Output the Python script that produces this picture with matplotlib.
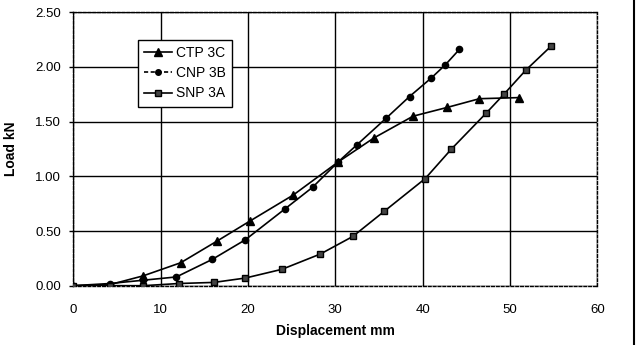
import matplotlib
matplotlib.use("Agg")
import matplotlib.pyplot as plt
from matplotlib.lines import Line2D

plt.rcParams['font.family'] = ['Liberation Sans', 'DejaVu Sans']

ctp_x = [0, 4.2, 8.0, 12.3, 16.5, 20.2, 25.2, 30.3, 34.4, 38.9, 42.8, 46.5, 51.0]
ctp_y = [0.0, 0.01, 0.09, 0.21, 0.41, 0.59, 0.83, 1.13, 1.35, 1.55, 1.63, 1.71, 1.72]

cnp_x = [0, 4.2, 8.0, 11.8, 15.9, 19.7, 24.2, 27.4, 30.3, 32.5, 35.8, 38.5, 41.0, 42.6, 44.2]
cnp_y = [0.0, 0.02, 0.05, 0.08, 0.24, 0.42, 0.70, 0.90, 1.13, 1.29, 1.53, 1.73, 1.90, 2.02, 2.16]

snp_x = [0, 4.2, 8.0, 12.1, 16.1, 19.7, 23.9, 28.3, 32.0, 35.6, 40.3, 43.3, 47.3, 49.3, 51.8, 54.7]
snp_y = [0.0, 0.0, 0.0, 0.02, 0.03, 0.07, 0.15, 0.29, 0.45, 0.68, 0.98, 1.25, 1.58, 1.75, 1.97, 2.19]

x_ticks = [0, 10, 20, 30, 40, 50, 60]
y_ticks = [0.0, 0.5, 1.0, 1.5, 2.0, 2.5]

fig = plt.figure(figsize=(6.38, 3.45), dpi=100)
ax = fig.add_axes([0.1149, 0.1719, 0.8213, 0.7924])

ax.plot(ctp_x, ctp_y, color='black', lw=1.2, marker='^', ms=5.5, zorder=3)
ax.plot(cnp_x, cnp_y, color='black', lw=1.2, marker='o', ms=4.5, zorder=3)
ax.plot(snp_x, snp_y, color='black', lw=1.2, marker='s', ms=4.5, mfc='#444444', zorder=3)

ax.set_xlim(0, 60)
ax.set_ylim(0, 2.5)
ax.set_xticks(x_ticks)
ax.set_yticks(y_ticks)
ax.set_yticklabels([f"{v:.2f}" for v in y_ticks])
ax.tick_params(length=3, width=1, direction='out', labelsize=9.5)
ax.tick_params(axis='y', pad=6)
ax.tick_params(axis='x', length=0, pad=13)

ax.grid(True, color='black', lw=1.0, ls='-')
ax.set_axisbelow(True)
for s in ax.spines.values():
    s.set_linestyle((0, (2, 1.5)))
    s.set_linewidth(1.0)

ax.set_xlabel('Displacement mm', fontsize=10, fontweight='bold', labelpad=6)
ax.set_ylabel('Load kN', fontsize=10, fontweight='bold', labelpad=12)

handles = [
    Line2D([], [], color='black', lw=1.2, marker='^', ms=5.5),
    Line2D([], [], color='black', lw=1.2, ls=(0, (2.5, 1.5)), marker='o', ms=4.0),
    Line2D([], [], color='black', lw=1.2, marker='s', ms=4.5, mfc='#444444'),
]
labels = ['CTP 3C', 'CNP 3B', 'SNP 3A']
leg = ax.legend(handles, labels, loc='upper left', bbox_to_anchor=(0.123, 0.9), fontsize=10,
                frameon=True, fancybox=False, framealpha=1, edgecolor='black', handlelength=2.0,
                borderpad=0.45, labelspacing=0.45, handletextpad=0.3, borderaxespad=0)
leg.get_frame().set_linewidth(1.0)

fig.add_artist(Line2D([0.994, 0.994], [0, 1], transform=fig.transFigure, color='black', lw=1.5))

fig.savefig('out.png', dpi=100)
